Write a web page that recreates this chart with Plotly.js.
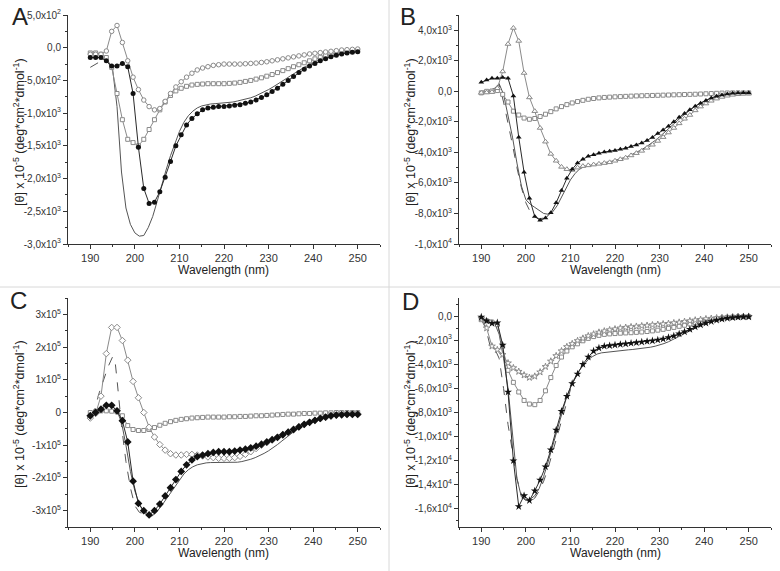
<!DOCTYPE html>
<html>
<head>
<meta charset="utf-8">
<script src="https://cdn.plot.ly/plotly-3.0.1.min.js"></script>
<style>html,body{margin:0;padding:0;background:#fff;}#chart{width:780px;height:571px;}</style>
</head>
<body>
<div id="chart"></div>
<script>
// Wavelength grids (nm)
const wlMark = [190,191.2,192.4,193.6,194.8,196,197.2,198.4,199.6,200.8,202,203.2,204.4,205.6,206.8,208,209.2,210.4,211.6,212.8,214,215.2,216.4,217.6,218.8,220,221.2,222.4,223.6,224.8,226,227.2,228.4,229.6,230.8,232,233.2,234.4,235.6,236.8,238,239.2,240.4,241.6,242.8,244,245.2,246.4,247.6,248.8,250];
const wlLine = [190,191,192,193,194,195,196,197,198,199,200,201,202,203,204,205,206,207,208,209,210,211,212,213,214,215,216,217,218,219,220,221,222,223,224,225,226,227,228,229,230,231,232,233,234,235,236,237,238,239,240,241,242,243,244,245,246,247,248,249,250];

// Panel A
const aFilledCircles = [-150,-150,-150,-200,-280,-280,-240,-290,-700,-1520,-2150,-2380,-2360,-2200,-1980,-1740,-1500,-1330,-1180,-1080,-1010,-950,-920,-910,-900,-900,-890,-880,-870,-850,-830,-800,-760,-720,-670,-620,-560,-500,-440,-380,-330,-280,-240,-200,-170,-140,-115,-95,-80,-70,-60];
const aOpenCircles = [-100,-100,-100,-50,250,340,80,-200,-450,-640,-800,-900,-950,-930,-820,-700,-600,-520,-450,-390,-340,-310,-290,-270,-260,-250,-250,-250,-250,-245,-240,-235,-225,-215,-200,-185,-170,-155,-140,-125,-110,-95,-85,-75,-65,-55,-45,-35,-30,-25,-20];
const aOpenSquares = [-80,-80,-100,-150,-300,-700,-1100,-1400,-1450,-1500,-1400,-1250,-1100,-950,-830,-730,-660,-620,-590,-570,-560,-555,-550,-550,-550,-550,-545,-540,-530,-515,-500,-480,-460,-435,-410,-380,-350,-320,-290,-260,-230,-200,-170,-145,-120,-100,-85,-70,-60,-50,-45];
const aSolid = [-150,-150,-150,-180,-230,-320,-900,-1900,-2450,-2700,-2830,-2880,-2870,-2750,-2580,-2350,-2100,-1870,-1650,-1450,-1280,-1140,-1040,-970,-920,-890,-870,-860,-855,-850,-845,-840,-830,-815,-800,-785,-765,-740,-710,-680,-640,-600,-560,-515,-470,-425,-380,-340,-300,-265,-230,-200,-175,-150,-130,-110,-95,-80,-70,-60,-55];
const aDashedX = [190,191,192,193,194,195];
const aDashed = [-300,-260,-220,-180,-230,-320];

// Panel B
const bFilledTri = [600,750,850,850,900,850,-300,-3000,-5300,-7000,-8200,-8450,-8300,-7950,-7300,-6500,-5700,-5100,-4700,-4450,-4250,-4150,-4050,-3970,-3920,-3870,-3800,-3720,-3620,-3520,-3380,-3220,-3020,-2770,-2530,-2280,-2000,-1700,-1450,-1200,-970,-780,-600,-430,-320,-240,-180,-130,-110,-95,-88];
const bOpenTri = [-100,-80,-50,200,1300,3100,4150,3300,1200,-400,-1300,-2400,-3300,-4100,-4550,-4950,-5100,-5150,-5000,-4900,-4850,-4800,-4750,-4700,-4650,-4550,-4450,-4350,-4200,-4050,-3900,-3700,-3500,-3250,-3000,-2700,-2400,-2100,-1800,-1550,-1250,-1000,-800,-620,-480,-370,-290,-230,-190,-160,-150];
const bOpenSquares = [-100,0,20,50,-200,-700,-1300,-1550,-1750,-1830,-1780,-1650,-1500,-1330,-1150,-1000,-870,-760,-670,-590,-520,-470,-430,-400,-380,-360,-345,-330,-315,-300,-290,-280,-270,-260,-250,-240,-230,-220,-210,-200,-190,-175,-160,-145,-130,-115,-105,-100,-100,-100,-100];
const bSolid = [0,20,80,200,500,-200,-1500,-3000,-4700,-6200,-7100,-7400,-7600,-7800,-8000,-8050,-7900,-7500,-6900,-6300,-5800,-5400,-5100,-4950,-4880,-4820,-4760,-4700,-4650,-4600,-4530,-4450,-4350,-4250,-4120,-3980,-3820,-3640,-3440,-3220,-2980,-2730,-2460,-2190,-1920,-1660,-1410,-1180,-970,-790,-640,-510,-400,-320,-260,-210,-170,-140,-120,-100,-90];
const bDashedX = [193,194,195,196,197,198,199,200,201,202,203,204];
const bDashed = [200,450,-700,-2000,-3500,-5000,-6300,-7300,-7900,-8200,-8350,-8300];

// Panel C
const cFilledDiam = [-10000,0,10000,22000,22000,5000,-25000,-90000,-210000,-278000,-300000,-313000,-300000,-280000,-255000,-230000,-205000,-180000,-160000,-145000,-135000,-130000,-126000,-122000,-120000,-120000,-120000,-118000,-115000,-112000,-108000,-103000,-97000,-90000,-83000,-76000,-68000,-60000,-52000,-44000,-36000,-30000,-24000,-18000,-14000,-10000,-8000,-7000,-6000,-6000,-6000];
const cOpenDiam = [-17000,-3000,50000,180000,260000,260000,220000,160000,95000,45000,0,-45000,-75000,-98000,-115000,-126000,-130000,-130000,-128000,-128000,-130000,-133000,-136000,-138000,-140000,-140000,-140000,-138000,-134000,-128000,-120000,-110000,-100000,-92000,-84000,-76000,-68000,-60000,-52000,-44000,-37000,-30000,-24000,-19000,-15000,-11000,-8000,-6000,-5000,-4000,-4000];
const cOpenSquares = [0,3000,5000,5000,4000,2000,-10000,-40000,-52000,-55000,-55000,-52000,-46000,-39000,-33000,-28000,-24000,-21000,-19000,-17000,-16000,-15000,-14000,-14000,-14000,-14000,-13000,-13000,-12000,-12000,-11000,-10000,-10000,-9000,-8000,-7000,-6000,-5000,-5000,-4000,-3000,-3000,-2000,-2000,-1000,-1000,0,0,0,0,0];
const cSolid = [-10000,0,10000,18000,20000,18000,5000,-30000,-100000,-180000,-240000,-280000,-305000,-317000,-315000,-302000,-285000,-265000,-245000,-225000,-205000,-188000,-175000,-166000,-160000,-156000,-154000,-153000,-153000,-153000,-153000,-153000,-153000,-152000,-150000,-147000,-143000,-138000,-132000,-125000,-117000,-108000,-98000,-87000,-76000,-65000,-55000,-46000,-38000,-31000,-25000,-20000,-16000,-13000,-11000,-9000,-8000,-7000,-6000,-6000,-5000];
const cDashedX = [190,191,192,193,194,195,195.5,196,197,198,199,200,201,202,203];
const cDashed = [-10000,10000,60000,100000,140000,170000,165000,100000,-40000,-150000,-230000,-285000,-305000,-310000,-313000];

// Panel D
const dFilledStars = [-80,-400,-600,-550,-2400,-6300,-12000,-15800,-14900,-15300,-14500,-13600,-12500,-11100,-9450,-7900,-6650,-5600,-4800,-4000,-3400,-2900,-2650,-2500,-2450,-2400,-2350,-2300,-2250,-2200,-2150,-2100,-2050,-1980,-1900,-1780,-1650,-1480,-1300,-1100,-900,-730,-580,-450,-340,-250,-180,-130,-90,-70,-60];
const dOpenStars = [-200,-1000,-2500,-2800,-3200,-3900,-4300,-4600,-4900,-5100,-5000,-4650,-4200,-3750,-3300,-2900,-2550,-2300,-2050,-1850,-1650,-1500,-1350,-1250,-1150,-1080,-1000,-950,-900,-860,-820,-780,-740,-700,-660,-620,-570,-520,-460,-400,-340,-290,-240,-200,-160,-130,-100,-80,-60,-50,-40];
const dOpenSquares = [-300,-400,-500,-700,-2500,-4500,-5500,-6300,-7000,-7300,-7350,-7000,-6200,-5100,-4100,-3400,-2900,-2550,-2300,-2050,-1850,-1700,-1600,-1520,-1480,-1450,-1420,-1400,-1380,-1350,-1320,-1280,-1230,-1170,-1100,-1020,-940,-850,-760,-660,-560,-460,-370,-290,-220,-160,-110,-80,-60,-50,-40];
const dSolid = [-100,-500,-600,-600,-1500,-3500,-6000,-10000,-13500,-15000,-15300,-15200,-14900,-14300,-13300,-12100,-10800,-9400,-8100,-6900,-5900,-5100,-4500,-4000,-3600,-3350,-3150,-3050,-3000,-2950,-2920,-2880,-2850,-2800,-2770,-2730,-2690,-2640,-2580,-2500,-2400,-2280,-2130,-1960,-1770,-1570,-1370,-1170,-980,-800,-650,-510,-390,-290,-210,-150,-110,-80,-60,-50,-40];
const dDashedX = [190,191,192,193,194,195,196,197,198,199,200,201,202,203,204,205,206,207,208,209,210,211,212];
const dDashed = [-300,-1000,-2500,-2700,-3500,-6000,-9000,-11300,-13500,-14800,-15300,-15400,-15100,-14500,-13700,-12600,-11300,-9900,-8500,-7200,-6100,-5200,-4600];

// Tick labels
const aTickVals = [500,0,-500,-1000,-1500,-2000,-2500,-3000];
const aTickText = ['5,0x10<sup>2</sup>','0,0','-5,0x10<sup>2</sup>','-1,0x10<sup>3</sup>','-1,5x10<sup>3</sup>','-2,0x10<sup>3</sup>','-2,5x10<sup>3</sup>','-3,0x10<sup>3</sup>'];
const bTickVals = [4000,2000,0,-2000,-4000,-6000,-8000,-10000];
const bTickText = ['4,0x10<sup>3</sup>','2,0x10<sup>3</sup>','0,0','-2,0x10<sup>3</sup>','-4,0x10<sup>3</sup>','-6,0x10<sup>3</sup>','-8,0x10<sup>3</sup>','-1,0x10<sup>4</sup>'];
const cTickVals = [300000,200000,100000,0,-100000,-200000,-300000];
const cTickText = ['3x10<sup>5</sup>','2x10<sup>5</sup>','1x10<sup>5</sup>','0','-1x10<sup>5</sup>','-2x10<sup>5</sup>','-3x10<sup>5</sup>'];
const dTickVals = [0,-2000,-4000,-6000,-8000,-10000,-12000,-14000,-16000];
const dTickText = ['0,0','-2,0x10<sup>3</sup>','-4,0x10<sup>3</sup>','-6,0x10<sup>3</sup>','-8,0x10<sup>3</sup>','-1,0x10<sup>4</sup>','-1,2x10<sup>4</sup>','-1,4x10<sup>4</sup>','-1,6x10<sup>4</sup>'];

const FONT = 'Liberation Sans, Arial, sans-serif';
const DARK = '#2a2a2a', GRAY = '#8a8a8a', LINEG = '#555';

function plain(x, y, n, dash) {
  return {x:x, y:y, xaxis:'x'+(n>1?n:''), yaxis:'y'+(n>1?n:''), mode:'lines', type:'scatter',
    line:{color:LINEG, width:1, dash:dash||'solid'}, hoverinfo:'skip'};
}
function open(x, y, n, sym, size) {
  return {x:x, y:y, xaxis:'x'+(n>1?n:''), yaxis:'y'+(n>1?n:''), mode:'lines+markers', type:'scatter',
    line:{color:GRAY, width:1}, marker:{symbol:sym, size:size||5, color:'#fff', line:{color:GRAY, width:1}}, hoverinfo:'skip'};
}
function filled(x, y, n, sym, size) {
  return {x:x, y:y, xaxis:'x'+(n>1?n:''), yaxis:'y'+(n>1?n:''), mode:'lines+markers', type:'scatter',
    line:{color:DARK, width:1}, marker:{symbol:sym, size:size||5, color:'#111', line:{width:0}}, hoverinfo:'skip'};
}

const traces = [
  plain(aDashedX, aDashed, 1, 'dash'),
  plain(wlLine, aSolid, 1),
  open(wlMark, aOpenSquares, 1, 'square', 4),
  open(wlMark, aOpenCircles, 1, 'circle', 4.5),
  filled(wlMark, aFilledCircles, 1, 'circle', 5),

  plain(bDashedX, bDashed, 2, 'dash'),
  plain(wlLine, bSolid, 2),
  open(wlMark, bOpenSquares, 2, 'square', 4),
  open(wlMark, bOpenTri, 2, 'triangle-up', 5),
  filled(wlMark, bFilledTri, 2, 'triangle-up', 5),

  plain(cDashedX, cDashed, 3, 'dash'),
  plain(wlLine, cSolid, 3),
  open(wlMark, cOpenSquares, 3, 'square', 4),
  open(wlMark, cOpenDiam, 3, 'diamond', 5),
  filled(wlMark, cFilledDiam, 3, 'diamond', 6),

  plain(dDashedX, dDashed, 4, 'dash'),
  plain(wlLine, dSolid, 4),
  open(wlMark, dOpenSquares, 4, 'square', 4),
  open(wlMark, dOpenStars, 4, 'star', 5),
  filled(wlMark, dFilledStars, 4, 'star', 6)
];

const W = 780, H = 571;
function px(v){return v/W;}
function py(v){return 1 - v/H;}

function xax(dom, anchor) {
  return {domain:dom, anchor:anchor, range:[185,255], tickmode:'linear', tick0:190, dtick:10,
    ticks:'outside', ticklen:4, tickwidth:1, tickcolor:'#333', showline:true, linecolor:'#333', linewidth:1,
    showgrid:false, zeroline:false, tickfont:{family:FONT, size:11, color:'#333'},
    minor:{tickmode:'linear', tick0:185, dtick:5, ticks:'outside', ticklen:2, tickcolor:'#333', showgrid:false}};
}
function yax(dom, anchor, range, vals, text, mdt) {
  return {domain:dom, anchor:anchor, range:range, tickmode:'array', tickvals:vals, ticktext:text,
    ticks:'outside', ticklen:4, tickwidth:1, tickcolor:'#333', showline:true, linecolor:'#333', linewidth:1,
    showgrid:false, zeroline:false, tickfont:{family:FONT, size:10, color:'#333'},
    minor:{tickmode:'linear', tick0:0, dtick:mdt, ticks:'outside', ticklen:2, tickcolor:'#333', showgrid:false}};
}

const xL = [px(68), px(380)], xR = [px(459), px(771)];
const yT = [py(244), py(15)], yB = [py(527), py(298)];

const ytitle = '[θ] x 10<sup>-5</sup> (deg*cm<sup>2</sup>*dmol<sup>-1</sup>)';
function ann(text, x, y, size, angle) {
  return {text:text, x:px(x), y:py(y), xref:'paper', yref:'paper', showarrow:false, textangle:angle||0,
    xanchor:'center', yanchor:'middle', font:{family:FONT, size:size, color:'#222'}};
}

const layout = {
  width:W, height:H, margin:{l:0, r:0, t:0, b:0}, paper_bgcolor:'#fff', plot_bgcolor:'#fff',
  showlegend:false, font:{family:FONT, color:'#333'},
  xaxis: xax(xL, 'y'), yaxis: yax(yT, 'x', [-3000,500], aTickVals, aTickText, 250),
  xaxis2: xax(xR, 'y2'), yaxis2: yax(yT, 'x2', [-10000,5000], bTickVals, bTickText, 1000),
  xaxis3: xax(xL, 'y3'), yaxis3: yax(yB, 'x3', [-350000,350000], cTickVals, cTickText, 50000),
  xaxis4: xax(xR, 'y4'), yaxis4: yax(yB, 'x4', [-17500,1500], dTickVals, dTickText, 1000),
  annotations: [
    ann('A', 20, 17, 24), ann('B', 408, 17, 24), ann('C', 18, 300, 24), ann('D', 410, 301, 24),
    ann(ytitle, 19, 132, 12.5, -90), ann(ytitle, 410, 132, 12.5, -90),
    ann(ytitle, 19, 414, 12.5, -90), ann(ytitle, 410, 414, 12.5, -90),
    ann('Wavelength (nm)', 224, 270, 12), ann('Wavelength (nm)', 615, 270, 12),
    ann('Wavelength (nm)', 224, 553, 12), ann('Wavelength (nm)', 615, 553, 12)
  ],
  shapes: [
    {type:'line', xref:'paper', yref:'paper', x0:px(389), x1:px(389), y0:0, y1:1, line:{color:'#d8d8d8', width:1}},
    {type:'line', xref:'paper', yref:'paper', x0:0, x1:1, y0:py(287), y1:py(287), line:{color:'#d8d8d8', width:1}}
  ]
};

Plotly.newPlot('chart', traces, layout, {staticPlot:true, displayModeBar:false});
</script>
</body>
</html>
